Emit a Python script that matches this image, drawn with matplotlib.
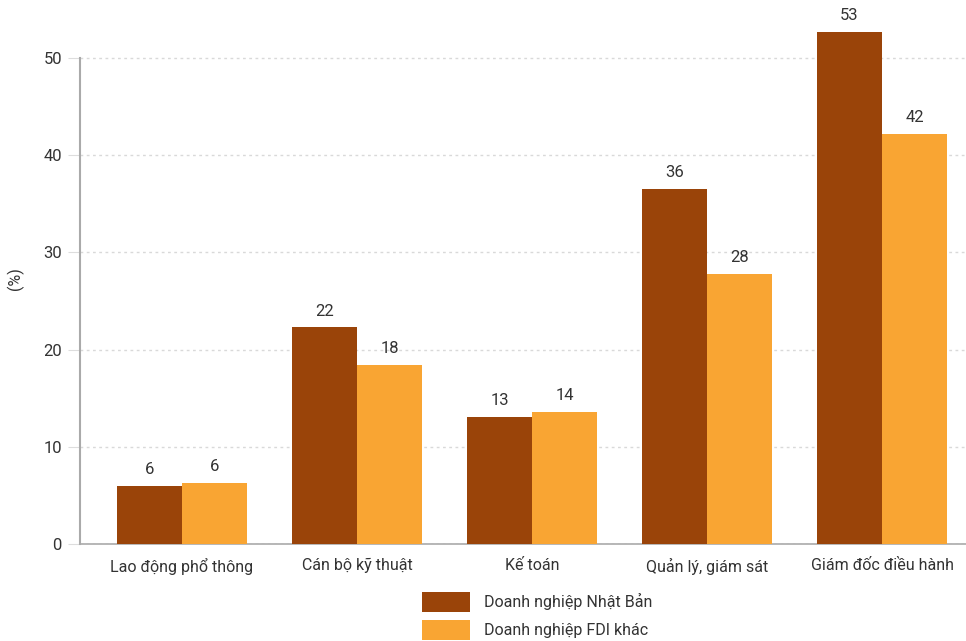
import matplotlib.pyplot as plt
import numpy as np

plt.rcParams['font.family'] = ['Roboto', 'DejaVu Sans']

categories = ['Lao động phổ thông', 'Cán bộ kỹ thuật', 'Kế toán',
              'Quản lý, giám sát', 'Giám đốc điều hành']
japan = [6.0, 22.3, 13.1, 36.5, 52.7]
other_fdi = [6.3, 18.4, 13.6, 27.8, 42.2]
japan_labels = ['6', '22', '13', '36', '53']
other_labels = ['6', '18', '14', '28', '42']
series_names = ['Doanh nghiệp Nhật Bản', 'Doanh nghiệp FDI khác']

dark = '#9A4409'
orange = '#F9A533'
text_color = '#333333'

fig = plt.figure(figsize=(9.66, 6.41), dpi=100)
ax = fig.add_axes([0.0828, 0.1513, 0.9172, 0.834])

x = np.arange(len(categories))
w = 0.372
b1 = ax.bar(x - w / 2, japan, w, color=dark, label=series_names[0], zorder=3)
b2 = ax.bar(x + w / 2, other_fdi, w, color=orange, label=series_names[1], zorder=3)

for bars, labs in ((b1, japan_labels), (b2, other_labels)):
    for rect, lab in zip(bars, labs):
        ax.text(rect.get_x() + rect.get_width() / 2, rect.get_height() + 0.9, lab,
                ha='center', va='bottom', fontsize=12, color=text_color)

ax.set_xlim(-0.583, 4.48)
ax.set_ylim(0, 55)
ax.set_yticks([0, 10, 20, 30, 40, 50])
ax.set_xticks(x)
ax.set_xticklabels(categories, fontsize=11.5, color=text_color)
ax.tick_params(axis='x', length=0, pad=10)
ax.tick_params(axis='y', length=9, color='#dddddd', labelsize=12,
               labelcolor=text_color, pad=4)

ax.grid(axis='y', color='#d9d9d9', linestyle=(0, (2, 2.5)), linewidth=1, zorder=0)
for s in ['top', 'right']:
    ax.spines[s].set_visible(False)
ax.spines['left'].set_color('#aaaaaa')
ax.spines['left'].set_linewidth(1.5)
ax.spines['left'].set_bounds(0, 50)
ax.spines['bottom'].set_color('#aaaaaa')
ax.spines['bottom'].set_linewidth(1.2)

fig.text(0.016, 0.566, '(%)', rotation=90, ha='center', va='center',
         fontsize=11.5, color=text_color)

ax.legend(loc='upper left', bbox_to_anchor=(0.379, -0.078), frameon=False,
          fontsize=11.5, handlelength=3.0, handleheight=1.5, labelspacing=0.55,
          handletextpad=0.87, labelcolor=text_color, borderaxespad=0)

fig.savefig('out.png', dpi=100)
